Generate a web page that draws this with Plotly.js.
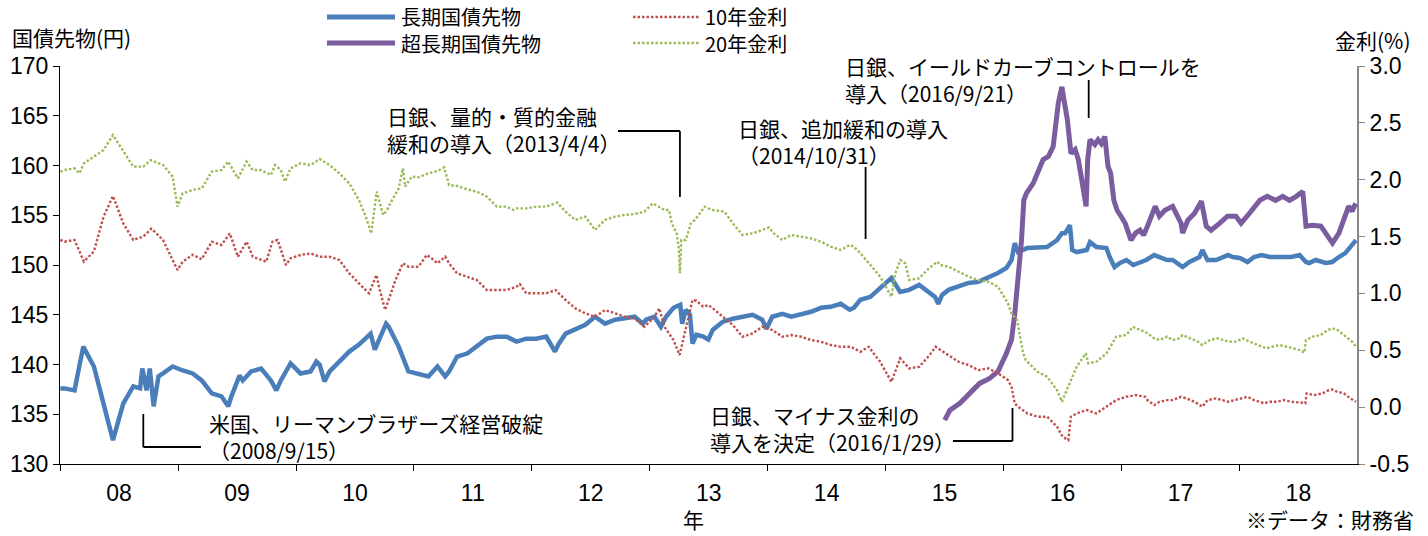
<!DOCTYPE html>
<html>
<head>
<meta charset="utf-8">
<script src="https://cdn.plot.ly/plotly-3.0.1.min.js"></script>
<style>html,body{margin:0;padding:0;background:#fff;}#chart{width:1428px;height:536px;}</style>
</head>
<body>
<div id="chart"></div>
<script>
// ---- data ----
const longFutures = [
['2008-01-02',137.6],['2008-01-15',137.6],['2008-02-15',137.4],['2008-03-13',141.8],['2008-04-15',139.8],['2008-05-15',136.1],['2008-06-13',132.4],['2008-07-15',136.1],['2008-08-15',137.8],['2008-09-05',137.6],['2008-09-12',139.6],['2008-09-25',137.4],['2008-10-05',139.6],['2008-10-17',135.8],['2008-11-01',138.8],['2008-11-15',139.1],['2008-12-15',139.8],
['2009-01-15',139.4],['2009-02-15',139.1],['2009-03-15',138.4],['2009-04-15',137.1],['2009-05-15',136.8],['2009-06-05',135.8],['2009-06-15',136.8],['2009-07-10',138.9],['2009-07-20',138.4],['2009-08-15',139.3],['2009-09-15',139.6],['2009-10-15',138.4],['2009-11-01',137.4],['2009-11-15',138.4],['2009-12-15',140.1],
['2010-01-15',139.1],['2010-02-15',139.3],['2010-03-05',140.3],['2010-03-15',140.0],['2010-03-30',138.3],['2010-04-15',139.3],['2010-05-15',140.3],['2010-06-15',141.3],['2010-07-15',142.0],['2010-08-20',143.1],['2010-09-02',141.5],['2010-09-15',142.5],['2010-10-07',144.1],['2010-10-15',143.8],['2010-11-15',141.8],['2010-12-15',139.3],
['2011-01-15',139.1],['2011-02-15',138.8],['2011-03-15',139.8],['2011-04-08',138.8],['2011-04-20',139.3],['2011-05-15',140.8],['2011-06-15',141.1],['2011-07-15',141.8],['2011-08-15',142.6],['2011-09-15',142.8],['2011-10-15',142.8],['2011-11-15',142.3],['2011-12-15',142.6],
['2012-01-15',142.6],['2012-02-15',142.8],['2012-03-13',141.3],['2012-03-25',142.1],['2012-04-15',143.1],['2012-05-15',143.5],['2012-06-15',144.0],['2012-07-15',144.8],['2012-08-15',144.1],['2012-09-15',144.5],['2012-10-15',144.6],['2012-11-15',144.8],['2012-12-10',144.1],['2012-12-20',144.5],
['2013-01-15',144.8],['2013-02-04',143.8],['2013-02-20',144.8],['2013-03-15',145.7],['2013-04-05',146.0],['2013-04-11',144.1],['2013-04-22',145.5],['2013-05-05',145.0],['2013-05-13',142.1],['2013-05-25',143.0],['2013-06-15',142.8],['2013-07-01',142.5],['2013-07-15',143.5],['2013-08-15',144.3],['2013-09-15',144.6],['2013-10-15',144.8],['2013-11-15',145.0],['2013-12-15',144.5],['2013-12-28',143.6],
['2014-01-15',144.8],['2014-02-15',145.1],['2014-03-15',144.8],['2014-04-15',145.0],['2014-05-15',145.3],['2014-06-15',145.7],['2014-07-15',145.8],['2014-08-15',146.1],['2014-09-12',145.5],['2014-09-25',145.7],['2014-10-15',146.5],['2014-11-15',146.8],['2014-12-15',147.7],
['2015-01-19',148.7],['2015-02-15',147.3],['2015-03-15',147.5],['2015-04-15',148.0],['2015-05-15',147.2],['2015-06-03',146.8],['2015-06-13',146.1],['2015-06-25',147.0],['2015-07-15',147.5],['2015-08-15',147.8],['2015-09-15',148.2],['2015-10-15',148.3],['2015-11-15',148.7],['2015-12-15',149.2],
['2016-01-10',149.7],['2016-01-26',150.5],['2016-02-05',152.2],['2016-02-15',151.3],['2016-03-15',151.7],['2016-04-15',151.8],['2016-05-15',151.8],['2016-06-15',152.5],['2016-06-30',153.2],['2016-07-10',153.2],['2016-07-25',154.0],['2016-08-01',151.5],['2016-08-15',151.3],['2016-09-15',151.5],['2016-09-25',152.3],['2016-10-15',151.8],['2016-11-15',151.7],['2016-11-25',150.8],['2016-12-10',149.8],['2016-12-27',150.2],
['2017-01-16',150.5],['2017-02-06',150.0],['2017-02-27',150.3],['2017-03-18',150.5],['2017-04-12',151.0],['2017-04-28',150.8],['2017-05-22',150.5],['2017-06-08',150.5],['2017-07-04',150.0],['2017-07-09',149.8],['2017-07-30',150.3],['2017-08-30',150.8],['2017-09-08',151.5],['2017-09-24',150.5],['2017-10-20',150.5],['2017-11-27',151.0],['2017-12-11',150.8],
['2018-01-02',150.7],['2018-01-26',150.3],['2018-02-15',150.8],['2018-03-10',151.0],['2018-04-05',150.8],['2018-05-10',150.8],['2018-06-10',150.8],['2018-07-06',151.0],['2018-07-26',150.3],['2018-08-05',150.2],['2018-08-25',150.5],['2018-09-25',150.2],['2018-10-15',150.3],['2018-11-05',150.8],['2018-11-25',151.2],['2018-12-15',152.0],['2018-12-28',152.5]
];

const superLongFutures = [
['2015-07-03',134.4],['2015-07-19',135.4],['2015-08-19',136.1],['2015-09-19',137.1],['2015-10-19',138.1],['2015-11-19',138.6],['2015-12-15',139.3],
['2016-01-10',141.1],['2016-01-26',142.5],['2016-02-05',145.1],['2016-02-16',148.8],['2016-02-26',152.5],['2016-03-04',156.5],['2016-03-12',157.2],['2016-04-02',158.2],['2016-04-18',159.6],['2016-05-03',160.6],['2016-05-19',160.9],['2016-06-03',161.9],['2016-06-19',166.3],['2016-06-30',167.9],['2016-07-05',166.9],['2016-07-17',164.6],['2016-07-28',161.2],['2016-08-10',161.6],['2016-08-20',160.6],['2016-08-28',158.9],['2016-09-05',157.2],['2016-09-13',155.9],['2016-09-18',160.6],['2016-09-25',162.6],['2016-10-10',162.1],['2016-10-20',162.6],['2016-10-30',162.2],['2016-11-10',162.9],['2016-11-20',159.9],['2016-11-28',159.2],['2016-12-08',156.5],['2016-12-18',155.5],['2016-12-30',154.9],
['2017-01-12',154.2],['2017-01-30',152.5],['2017-02-13',153.2],['2017-02-27',153.5],['2017-03-10',153.0],['2017-03-22',153.9],['2017-04-15',155.9],['2017-04-28',154.9],['2017-05-15',155.5],['2017-06-08',155.9],['2017-07-04',154.2],['2017-07-09',153.2],['2017-07-25',154.5],['2017-08-15',155.2],['2017-09-05',156.4],['2017-09-20',153.9],['2017-10-05',153.5],['2017-11-01',154.2],['2017-11-25',154.9],['2017-12-21',154.9],
['2018-01-06',154.2],['2018-02-01',155.2],['2018-03-05',156.5],['2018-03-28',156.9],['2018-04-23',156.5],['2018-05-15',156.9],['2018-06-05',156.5],['2018-06-26',156.9],['2018-07-16',157.4],['2018-07-26',153.9],['2018-08-16',154.0],['2018-09-10',153.9],['2018-10-01',153.0],['2018-10-16',152.2],['2018-11-05',153.2],['2018-11-20',154.5],['2018-12-05',155.9],['2018-12-16',155.4],['2018-12-27',156.2]
];

const yield10 = [
['2008-01-02',1.47],['2008-01-15',1.455],['2008-02-15',1.47],['2008-03-15',1.28],['2008-04-15',1.37],['2008-05-15',1.675],['2008-06-13',1.857],['2008-07-15',1.616],['2008-08-15',1.47],['2008-09-15',1.50],['2008-10-10',1.57],['2008-11-15',1.47],['2008-12-15',1.294],['2008-12-30',1.206],
['2009-01-15',1.28],['2009-02-15',1.34],['2009-03-15',1.30],['2009-04-15',1.455],['2009-05-15',1.426],['2009-06-10',1.528],['2009-07-05',1.323],['2009-08-01',1.455],['2009-08-20',1.323],['2009-10-01',1.279],['2009-10-20',1.455],['2009-11-05',1.47],['2009-12-01',1.25],['2009-12-15',1.309],
['2010-01-15',1.338],['2010-02-15',1.352],['2010-03-15',1.323],['2010-04-15',1.323],['2010-05-15',1.294],['2010-06-15',1.176],['2010-07-15',1.088],['2010-08-15',1.001],['2010-09-07',1.162],['2010-09-15',1.059],['2010-10-04',0.854],['2010-10-15',0.942],['2010-11-05',1.118],['2010-11-28',1.265],['2010-12-15',1.235],
['2011-01-15',1.235],['2011-02-10',1.338],['2011-02-25',1.309],['2011-03-15',1.265],['2011-04-08',1.323],['2011-04-20',1.265],['2011-05-15',1.176],['2011-06-15',1.147],['2011-07-15',1.118],['2011-08-15',1.030],['2011-09-15',1.030],['2011-10-15',1.030],['2011-11-15',1.059],['2011-11-25',1.083],['2011-12-15',1.001],
['2012-01-15',1.001],['2012-02-15',1.001],['2012-03-15',1.030],['2012-04-15',0.942],['2012-05-15',0.869],['2012-06-15',0.825],['2012-07-15',0.795],['2012-08-15',0.854],['2012-09-15',0.825],['2012-10-15',0.795],['2012-11-15',0.781],['2012-12-15',0.707],
['2013-01-15',0.795],['2013-01-30',0.869],['2013-02-15',0.707],['2013-03-15',0.590],['2013-04-03',0.458],['2013-04-11',0.561],['2013-04-22',0.678],['2013-05-13',0.942],['2013-05-25',0.936],['2013-06-15',0.883],['2013-07-01',0.898],['2013-07-15',0.869],['2013-08-15',0.795],['2013-09-15',0.722],['2013-10-15',0.619],['2013-11-15',0.648],['2013-12-15',0.707],
['2014-01-15',0.678],['2014-02-15',0.619],['2014-03-15',0.634],['2014-04-15',0.619],['2014-05-15',0.590],['2014-06-15',0.575],['2014-07-15',0.546],['2014-08-15',0.531],['2014-09-15',0.531],['2014-10-15',0.487],['2014-11-10',0.531],['2014-11-25',0.473],['2014-12-15',0.399],
['2015-01-19',0.223],['2015-02-15',0.429],['2015-03-15',0.341],['2015-04-15',0.355],['2015-05-15',0.45],['2015-06-05',0.531],['2015-06-20',0.502],['2015-07-15',0.458],['2015-08-15',0.399],['2015-09-15',0.370],['2015-10-15',0.326],['2015-11-15',0.341],['2015-12-15',0.297],
['2016-01-15',0.238],['2016-01-26',0.179],['2016-02-05',0.033],['2016-02-15',0.004],['2016-03-15',-0.055],['2016-04-15',-0.084],['2016-05-15',-0.084],['2016-06-15',-0.172],['2016-07-02',-0.26],['2016-07-20',-0.29],['2016-07-28',-0.084],['2016-08-15',-0.055],['2016-09-15',-0.026],['2016-10-15',-0.055],['2016-11-15',0.004],['2016-12-15',0.062],
['2017-01-15',0.091],['2017-02-15',0.106],['2017-03-15',0.091],['2017-03-22',0.062],['2017-04-12',0.018],['2017-04-28',0.047],['2017-05-22',0.062],['2017-06-08',0.062],['2017-07-04',0.091],['2017-07-20',0.077],['2017-08-15',0.047],['2017-09-08',0.004],['2017-09-24',0.062],['2017-10-20',0.077],['2017-11-27',0.047],['2017-12-20',0.062],
['2018-01-05',0.077],['2018-01-26',0.091],['2018-02-15',0.062],['2018-03-20',0.033],['2018-04-01',0.047],['2018-04-25',0.047],['2018-05-20',0.062],['2018-06-10',0.047],['2018-07-15',0.039],['2018-07-24',0.033],['2018-07-28',0.121],['2018-08-20',0.106],['2018-09-15',0.121],['2018-10-05',0.150],['2018-10-15',0.156],['2018-10-30',0.136],['2018-11-20',0.121],['2018-12-10',0.077],['2018-12-28',0.047]
];

const yield20 = [
['2008-01-02',2.071],['2008-01-15',2.085],['2008-02-15',2.100],['2008-03-01',2.056],['2008-03-15',2.144],['2008-04-15',2.203],['2008-05-15',2.261],['2008-06-13',2.393],['2008-07-15',2.247],['2008-08-15',2.115],['2008-09-15',2.115],['2008-10-08',2.173],['2008-11-15',2.129],['2008-12-15',2.027],['2008-12-30',1.763],
['2009-01-15',1.880],['2009-02-15',1.909],['2009-03-15',1.924],['2009-04-15',2.071],['2009-05-15',2.085],['2009-06-05',2.159],['2009-07-05',2.012],['2009-08-01',2.159],['2009-08-20',2.085],['2009-09-15',2.085],['2009-10-15',2.041],['2009-10-28',2.129],['2009-11-15',2.085],['2009-11-28',1.983],['2009-12-15',2.100],
['2010-01-15',2.144],['2010-02-15',2.129],['2010-03-15',2.182],['2010-04-15',2.129],['2010-05-15',2.056],['2010-06-15',1.968],['2010-07-15',1.821],['2010-08-05',1.675],['2010-08-22',1.528],['2010-09-01',1.763],['2010-09-08',1.895],['2010-09-15',1.821],['2010-09-28',1.690],['2010-10-10',1.734],['2010-10-20',1.792],['2010-11-15',1.924],['2010-11-28',2.100],['2010-12-05',1.939],['2010-12-25',2.027],
['2011-01-15',2.021],['2011-02-15',2.056],['2011-03-15',2.076],['2011-04-05',2.109],['2011-04-20',1.953],['2011-05-15',1.945],['2011-06-15',1.915],['2011-07-15',1.895],['2011-08-15',1.851],['2011-09-15',1.763],['2011-10-15',1.763],['2011-11-05',1.734],['2011-11-15',1.748],['2011-12-15',1.748],
['2012-01-15',1.763],['2012-02-15',1.763],['2012-03-20',1.798],['2012-04-15',1.719],['2012-05-15',1.646],['2012-06-15',1.675],['2012-07-15',1.558],['2012-08-15',1.646],['2012-09-15',1.675],['2012-10-15',1.690],['2012-11-15',1.698],['2012-12-15',1.719],
['2013-01-10',1.792],['2013-02-15',1.734],['2013-03-01',1.734],['2013-03-10',1.616],['2013-03-25',1.528],['2013-04-01',1.382],['2013-04-04',1.177],['2013-04-08',1.470],['2013-04-22',1.470],['2013-05-08',1.616],['2013-05-20',1.646],['2013-06-05',1.704],['2013-06-20',1.763],['2013-07-01',1.748],['2013-07-15',1.734],['2013-08-20',1.719],['2013-09-15',1.616],['2013-10-15',1.514],['2013-11-15',1.528],['2013-12-15',1.558],
['2014-01-05',1.581],['2014-01-20',1.528],['2014-02-15',1.470],['2014-03-15',1.514],['2014-04-15',1.499],['2014-05-15',1.484],['2014-06-15',1.455],['2014-07-15',1.411],['2014-08-15',1.382],['2014-09-12',1.426],['2014-09-25',1.411],['2014-10-15',1.352],['2014-11-15',1.250],['2014-12-15',1.147],
['2015-01-19',0.971],['2015-01-31',1.177],['2015-02-16',1.294],['2015-03-03',1.264],['2015-03-15',1.118],['2015-04-15',1.133],['2015-05-15',1.220],['2015-05-28',1.250],['2015-06-10',1.279],['2015-06-20',1.250],['2015-07-15',1.235],['2015-08-15',1.191],['2015-09-15',1.147],['2015-10-15',1.118],['2015-11-15',1.103],['2015-12-15',1.059],
['2016-01-15',0.913],['2016-01-26',0.825],['2016-02-12',0.766],['2016-03-02',0.473],['2016-03-10',0.414],['2016-04-15',0.312],['2016-05-15',0.268],['2016-06-15',0.150],['2016-06-30',0.048],['2016-07-15',0.150],['2016-08-05',0.297],['2016-08-15',0.356],['2016-09-12',0.473],['2016-09-20',0.385],['2016-10-15',0.400],['2016-11-15',0.473],['2016-12-15',0.619],
['2017-01-15',0.634],['2017-02-05',0.707],['2017-02-15',0.693],['2017-03-15',0.663],['2017-03-22',0.649],['2017-04-12',0.605],['2017-04-28',0.590],['2017-05-22',0.620],['2017-06-08',0.590],['2017-06-30',0.605],['2017-07-09',0.634],['2017-07-30',0.605],['2017-08-25',0.576],['2017-09-08',0.546],['2017-10-01',0.590],['2017-10-25',0.605],['2017-11-27',0.576],['2017-12-21',0.576],
['2018-01-11',0.605],['2018-02-01',0.576],['2018-02-27',0.546],['2018-03-25',0.517],['2018-04-14',0.532],['2018-05-05',0.546],['2018-06-05',0.526],['2018-07-06',0.502],['2018-07-21',0.479],['2018-07-26',0.590],['2018-08-16',0.620],['2018-09-10',0.634],['2018-10-01',0.678],['2018-10-16',0.693],['2018-11-01',0.678],['2018-11-27',0.620],['2018-12-16',0.576],['2018-12-27',0.537]
];

const seriesNames = ['長期国債先物','超長期国債先物','10年金利','20年金利'];
const rightTickVals = [-0.5,0,0.5,1,1.5,2,2.5,3];
const rightTickText = ['-0.5','0.0','0.5','1.0','1.5','2.0','2.5','3.0'];
const events = [
  {date:'2008-09-15', text:'米国、リーマンブラザーズ経営破綻<br>（2008/9/15）'},
  {date:'2013-04-04', text:'日銀、量的・質的金融<br>緩和の導入（2013/4/4）'},
  {date:'2014-10-31', text:'日銀、追加緩和の導入<br>（2014/10/31）'},
  {date:'2016-09-21', text:'日銀、イールドカーブコントロールを<br>導入（2016/9/21）'},
  {date:'2016-01-29', text:'日銀、マイナス金利の<br>導入を決定（2016/1/29）'}
];

// ---- layout helpers (pixel -> paper) ----
const W=1428, H=536, L=60, R=1357, T=66, B=464;
const px = x => (x-L)/(R-L);
const py = y => (B-y)/(B-T);
const X0 = Date.UTC(2008,0,1), X1 = Date.UTC(2018,11,31);
const dp = s => { const a=s.split('-').map(Number); return (Date.UTC(a[0],a[1]-1,a[2])-X0)/(X1-X0); };

const CJK = 'Noto Sans CJK JP, sans-serif';
const NUM = 'Liberation Sans, Arial, sans-serif';
const BLUE='#4A7EBB', PURPLE='#7B5C9F', RED='#C0504D', GREEN='#9BBB59';
const DOTS = '2.5px,2px';

const xs = a => a.map(d=>d[0]);
const ys = a => a.map(d=>d[1]);

const traces = [
  {x:xs(longFutures), y:ys(longFutures), name:seriesNames[0], mode:'lines', line:{color:BLUE, width:4.5}, yaxis:'y'},
  {x:xs(superLongFutures), y:ys(superLongFutures), name:seriesNames[1], mode:'lines', line:{color:PURPLE, width:5}, yaxis:'y'},
  {x:xs(yield10), y:ys(yield10), name:seriesNames[2], mode:'lines', line:{color:RED, width:2.4, dash:DOTS}, yaxis:'y2'},
  {x:xs(yield20), y:ys(yield20), name:seriesNames[3], mode:'lines', line:{color:GREEN, width:2.4, dash:DOTS}, yaxis:'y2'}
];

const shapes = [];
const annotations = [];
function seg(x0,y0,x1,y1,color,width,dash){
  shapes.push({type:'line', xref:'paper', yref:'paper', x0:x0, y0:y0, x1:x1, y1:y1, line:{color:color||'#000', width:width||1.8, dash:dash||'solid'}});
}
function txt(text,x,y,xanchor,size,family){
  annotations.push({text:text, xref:'paper', yref:'paper', x:x, y:y, xanchor:xanchor||'left', yanchor:'middle', align:xanchor==='right'?'right':'left', showarrow:false, borderpad:0, font:{family:family||CJK, size:size||21, color:'#000'}});
}

// legend (two columns)
seg(px(327),py(17),px(395),py(17),BLUE,5);
seg(px(327),py(43),px(395),py(43),PURPLE,5);
seg(px(633),py(17),px(700),py(17),RED,2.4,DOTS);
seg(px(633),py(43),px(700),py(43),GREEN,2.4,DOTS);
txt(seriesNames[0],px(400),py(16.5),'left',20);
txt(seriesNames[1],px(400),py(43.5),'left',20);
txt(seriesNames[2],px(704),py(16.5),'left',20);
txt(seriesNames[3],px(704),py(43.5),'left',20);

// axis titles and notes
txt('国債先物(円)',px(11),py(37),'left',21);
txt('金利(%)',px(1412),py(40),'right',21);
txt('年',px(693),py(519),'center',21);
txt('※データ：財務省',px(1415),py(519),'right',21);

// event call-outs
// Lehman
txt(events[0].text,px(208),py(436));
seg(dp(events[0].date),py(414),dp(events[0].date),py(447));
seg(dp(events[0].date),py(447),px(201),py(447));
// QQE
txt(events[1].text,px(386),py(129));
seg(px(618),py(131),dp(events[1].date),py(131));
seg(dp(events[1].date),py(131),dp(events[1].date),py(197));
// additional easing
txt(events[2].text,px(737),py(141.5));
seg(dp(events[2].date),py(167),dp(events[2].date),py(239));
// yield curve control
txt(events[3].text,px(844),py(79.5));
seg(dp(events[3].date),py(80),dp(events[3].date),py(118));
// negative rates
txt(events[4].text,px(709),py(428));
seg(px(953),py(441),dp(events[4].date),py(441));
seg(dp(events[4].date),py(441),dp(events[4].date),py(408));

const layout = {
  width:W, height:H,
  margin:{l:L, r:W-R, t:T, b:H-B, pad:0},
  paper_bgcolor:'#fff', plot_bgcolor:'#fff',
  showlegend:false,
  xaxis:{type:'date', range:['2008-01-01','2018-12-31'], tick0:'2008-01-01', dtick:'M12', tickformat:'%y',
         ticklabelmode:'period', ticks:'outside', ticklen:6, tickwidth:1, tickcolor:'#000',
         showline:true, linecolor:'#000', linewidth:1, showgrid:false, zeroline:false,
         ticklabelstandoff:2, tickfont:{family:NUM, size:23, color:'#000'}, automargin:false},
  yaxis:{range:[130,170], tick0:130, dtick:5, ticks:'outside', ticklen:6, tickcolor:'#000',
         showline:true, linecolor:'#000', linewidth:1, showgrid:false, zeroline:false,
         tickfont:{family:NUM, size:23, color:'#000'}, automargin:false},
  yaxis2:{overlaying:'y', side:'right', range:[-0.5,3.0], tickmode:'array', tickvals:rightTickVals, ticktext:rightTickText,
          ticks:'outside', ticklen:6, tickcolor:'#888', showline:true, linecolor:'#888', linewidth:2,
          showgrid:false, zeroline:false, tickfont:{family:NUM, size:23, color:'#000'}, automargin:false},
  shapes:shapes,
  annotations:annotations
};

Plotly.newPlot('chart', traces, layout, {displayModeBar:false, staticPlot:true});
</script>
</body>
</html>
